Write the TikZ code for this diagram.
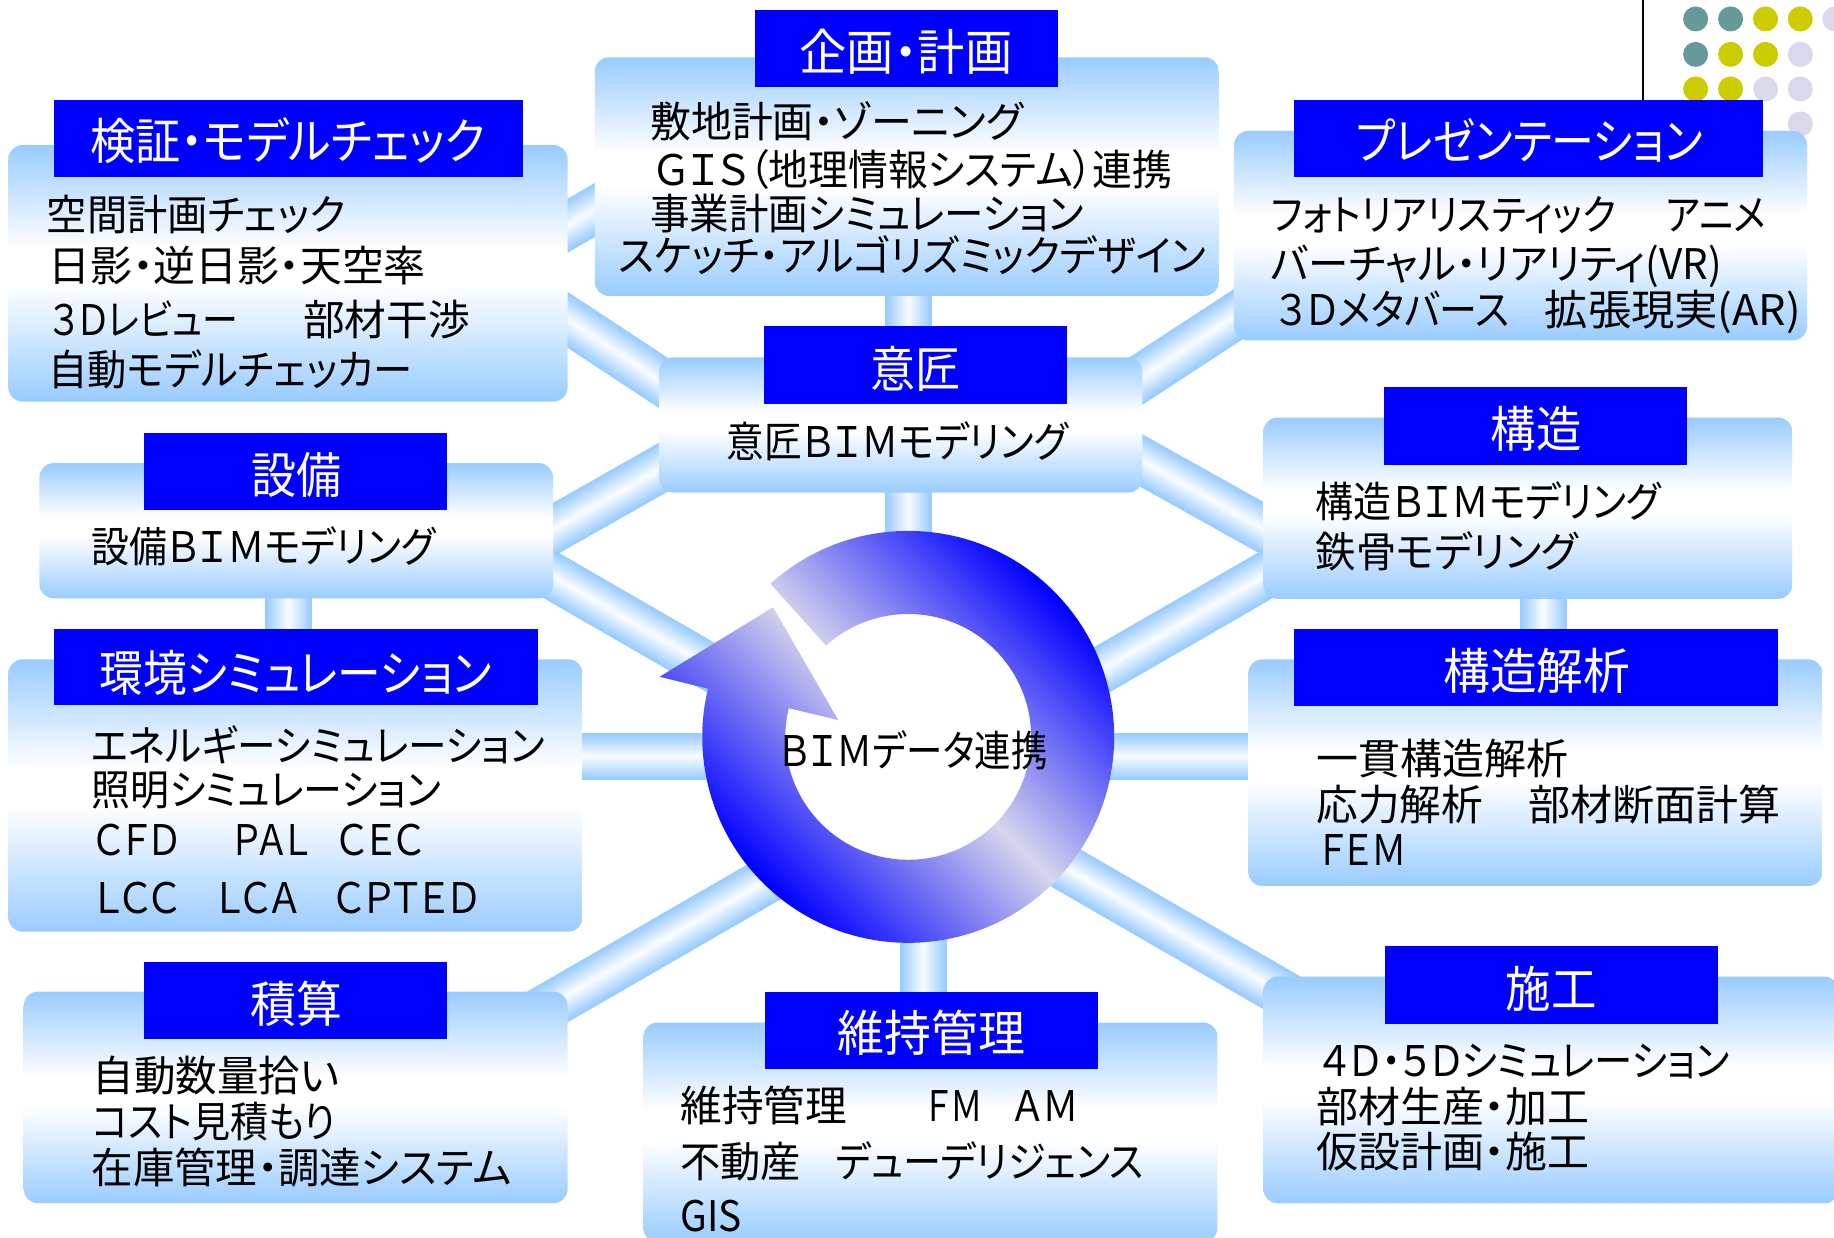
\documentclass[tikz,border=0pt]{standalone}
\usepackage{fontspec}
\usepackage{graphicx}
\setmainfont{Noto Sans CJK JP}[RawFeature=+palt]
\usetikzlibrary{fit}
\definecolor{lb}{RGB}{153,204,255}
\definecolor{titleblue}{RGB}{0,0,255}
\definecolor{ringdark}{RGB}{0,0,255}
\definecolor{ringlight}{RGB}{214,214,236}
\definecolor{dotteal}{RGB}{102,153,153}
\definecolor{dotyellow}{RGB}{204,204,0}
\definecolor{dotlav}{RGB}{217,217,235}
\pgfdeclareverticalshading{boxshade}{100bp}{color(0bp)=(lb); color(25bp)=(lb); color(48bp)=(white); color(55bp)=(white); color(75bp)=(lb); color(100bp)=(lb)}
\pgfdeclarehorizontalshading{ringshade}{100bp}{color(0bp)=(ringdark); color(30.9bp)=(ringdark); color(50bp)=(ringlight); color(69.1bp)=(ringdark); color(100bp)=(ringdark)}
\newlength\fitlen
\newcommand\fittext[2]{\settowidth\fitlen{#2}\pgfmathsetmacro\fitr{(#1)*0.2845274/\fitlen}\scalebox{\fitr}[1]{#2}}
\newcommand\btx[5]{\node[bodytxt] (#1) at (#2,#4+13.7) {\fittext{#3-#2}{#5}};}
\newcommand\ttl[5]{\node[titletxt] (#1) at (#2,#4+16) {\fittext{#3-#2}{#5}};}
\newcommand\tube[2]{\foreach \k in {0,...,11}{\pgfmathsetmacro\tw{0.4*(1-\k/12)}\pgfmathsetmacro\tc{100*(1-\k/12)}\draw[line width=\tw cm, draw=lb!\tc!white] (#1) -- (#2);}}
\tikzset{
 bodytxt/.style={inner sep=0pt, anchor=base west, font=\fontsize{10.24pt}{12pt}\selectfont, text=black},
 titletxt/.style={inner sep=0pt, anchor=base west, font=\fontsize{11.95pt}{14pt}\selectfont, text=white},
 boxnode/.style={inner sep=0pt, shade, shading=boxshade, rounded corners=0.12cm, draw=none},
 titlenode/.style={inner sep=0pt, fill=titleblue, draw=none},
}
\begin{document}
\begin{tikzpicture}[x=0.01cm, y=-0.01cm]
\useasboundingbox (0,0) rectangle (1568,1058);
\fill[white] (0,0) rectangle (1568,1058);
% decoration top right
\draw[line width=0.017cm] (1404.4,0) -- (1404.4,90);
\foreach \cx/\cy/\cc in {1449.7/16.2/dotteal, 1479.6/16.2/dotteal, 1509.5/16.2/dotyellow, 1539.2/16.2/dotyellow, 1568.8/16.2/dotlav,
 1449.7/46.5/dotteal, 1479.6/46.5/dotyellow, 1509.5/46.5/dotyellow, 1539.2/46.5/dotlav,
 1449.7/76.1/dotyellow, 1479.6/76.1/dotyellow, 1509.5/76.1/dotlav, 1539.2/76.1/dotlav,
 1539.2/106/dotlav}
 {\fill[\cc] (\cx,\cy) circle[radius=10.7];}
% connector end points
\coordinate (b1s) at (776.7,200); \coordinate (b1e) at (776.7,630);
\coordinate (b2s) at (789.6,630); \coordinate (b2e) at (789.6,900);
\coordinate (b3s) at (450,646.8); \coordinate (b3e) at (776,646.8);
\coordinate (b4s) at (776,646.8); \coordinate (b4e) at (1100,646.8);
\coordinate (b5s) at (247,480); \coordinate (b5e) at (247,590);
\coordinate (b6s) at (1319.5,480); \coordinate (b6e) at (1319.5,590);
\coordinate (b7s) at (440,219.1); \coordinate (b7e) at (560,149.9);
\coordinate (b8s) at (440,243.6); \coordinate (b8e) at (600,349);
\coordinate (b9s) at (440,471.6); \coordinate (b9e) at (600,380.8);
\coordinate (b10s) at (440,474); \coordinate (b10e) at (700,624);
\coordinate (b11s) at (440,877.1); \coordinate (b11e) at (700,727);
\coordinate (b12s) at (940,346.2); \coordinate (b12e) at (1100,241.6);
\coordinate (b13s) at (940,373.7); \coordinate (b13e) at (1110,468.8);
\coordinate (b14s) at (850,625.7); \coordinate (b14e) at (1110,475.7);
\coordinate (b15s) at (850,706.8); \coordinate (b15e) at (1110,856.9);
\tube{b1s}{b1e} \tube{b2s}{b2e} \tube{b3s}{b3e} \tube{b4s}{b4e}
\tube{b5s}{b5e} \tube{b6s}{b6e} \tube{b7s}{b7e} \tube{b8s}{b8e}
\tube{b9s}{b9e} \tube{b10s}{b10e} \tube{b11s}{b11e} \tube{b12s}{b12e}
\tube{b13s}{b13e} \tube{b14s}{b14e} \tube{b15s}{b15e}
% ring
\fill[white] (776.5,630) circle[radius=176];
\begin{scope}[shift={(776.5,630)}]
 \begin{scope}
  \clip (132:1.76cm) arc[start angle=132, end angle=-193.5, radius=1.76cm]
   -- (166.4:2.185cm) -- (136.2:1.6cm) -- (166.5:0.615cm) -- (166.5:1.05cm)
   arc[start angle=-193.5, end angle=132, radius=1.05cm] -- cycle;
  \shade[shading=ringshade, shading angle=45] (-2.3cm,-2.3cm) rectangle (2.3cm,2.3cm);
 \end{scope}
\end{scope}
% boxes
\node[boxnode, fit={(508.5,49) (1042,253)}] (kikakubox) {};
\node[boxnode, fit={(7.2,124) (485.3,343.4)}] (kenshobox) {};
\node[boxnode, fit={(1055,112) (1545,291)}] (presbox) {};
\node[boxnode, fit={(563.7,305.5) (976.7,421.2)}] (ishobox) {};
\node[boxnode, fit={(33.7,396) (472.8,511.5)}] (setsubibox) {};
\node[boxnode, fit={(1080.2,357) (1532.3,512)}] (kozobox) {};
\node[boxnode, fit={(7.2,563.7) (498,796.5)}] (kankyobox) {};
\node[boxnode, fit={(1067.2,563.7) (1558.2,757.5)}] (kaisekibox) {};
\node[boxnode, fit={(20.3,847.8) (485.3,1028.7)}] (sekisanbox) {};
\node[boxnode, fit={(550,874.3) (1040.9,1062)}] (ijibox) {};
\node[boxnode, fit={(1080.2,835) (1572,1028.8)}] (sekoubox) {};
% title bars
\node[titlenode, fit={(645.6,8.5) (904.7,74.1)}] (kikakutitle) {};
\node[titlenode, fit={(46,85.5) (447,151)}] (kenshotitle) {};
\node[titlenode, fit={(1105.9,85.5) (1507,151)}] (prestitle) {};
\node[titlenode, fit={(653.2,278.7) (912,345.4)}] (ishotitle) {};
\node[titlenode, fit={(123,370.5) (382,436)}] (setsubititle) {};
\node[titlenode, fit={(1183.2,330.6) (1442.2,397.5)}] (kozotitle) {};
\node[titlenode, fit={(46,538) (459.7,603)}] (kankyotitle) {};
\node[titlenode, fit={(1106.4,537.7) (1520,603.3)}] (kaisekititle) {};
\node[titlenode, fit={(123,822.1) (382.2,888.2)}] (sekisantitle) {};
\node[titlenode, fit={(654.1,847.8) (938.8,913.9)}] (ijititle) {};
\node[titlenode, fit={(1184.1,808.8) (1468.8,875.5)}] (sekoutitle) {};
% title texts
\ttl{tkikaku}{683}{864.7}{44}{企画・計画}
\ttl{tkensho}{76.9}{414}{120.4}{検証・モデルチェック}
\ttl{tpres}{1158.6}{1455}{120}{プレゼンテーション}
\ttl{tisho}{743.8}{820.8}{315.6}{意匠}
\ttl{tsetsubi}{214}{291}{406}{設備}
\ttl{tkozo}{1273.8}{1351.5}{367}{構造}
\ttl{tkankyo}{84.4}{419.8}{575}{環境シミュレーション}
\ttl{tkaiseki}{1233.4}{1393}{573.5}{構造解析}
\ttl{tsekisan}{213.4}{291.9}{858.5}{積算}
\ttl{tiji}{715.3}{875.6}{883.4}{維持管理}
\ttl{tsekou}{1286.8}{1364.5}{845}{施工}
% body texts
\btx{a1}{555.3}{873.7}{104}{敷地計画・ゾーニング}
\btx{a2}{558.9}{1001.5}{145.3}{ＧＩＳ（地理情報システム）連携}
\btx{a3}{555.3}{926}{182.4}{事業計画シミュレーション}
\btx{a4}{528.3}{1030.3}{218.6}{スケッチ・アルゴリズミックデザイン}
\btx{b1}{39.3}{294.5}{183}{空間計画チェック}
\btx{b2}{40.9}{363.2}{226.6}{日影・逆日影・天空率}
\btx{b3}{42.5}{203}{273}{３Ｄレビュー}
\btx{b3b}{258.5}{400.9}{273}{部材干渉}
\btx{b4}{40.9}{351.8}{315.6}{自動モデルチェッカー}
\btx{c1}{1086}{1381}{183}{フォトリアリスティック}
\btx{c1b}{1423.7}{1509.3}{183}{アニメ}
\btx{c2}{1086}{1471.4}{225}{バーチャル・リアリティ(VR)}
\btx{c3}{1091}{1290}{265}{３Ｄメタバース}
\btx{c3b}{1320}{1539}{265}{拡張現実(AR)}
\btx{d1}{620.7}{912}{377.6}{意匠ＢＩＭモデリング}
\btx{e1}{77.6}{371.4}{467}{設備ＢＩＭモデリング}
\btx{f1}{1124.2}{1419}{429}{構造ＢＩＭモデリング}
\btx{f2}{1124.2}{1348.3}{471.7}{鉄骨モデリング}
\btx{g1}{77.6}{464.7}{637}{エネルギーシミュレーション}
\btx{g2}{77.6}{376.3}{674.7}{照明シミュレーション}
\btx{g3}{80.8}{153.1}{717.4}{ＣＦＤ}
\btx{g3b}{198}{263.4}{717.4}{ＰＡＬ}
\btx{g3c}{288}{361.6}{717.4}{ＣＥＣ}
\btx{g4}{80.8}{153.1}{767}{ＬＣＣ}
\btx{g4b}{185.5}{255.2}{767}{ＬＣＡ}
\btx{g4c}{285.3}{409}{767}{ＣＰＴＥＤ}
\btx{h1}{1124.9}{1340.2}{648.3}{一貫構造解析}
\btx{h2}{1124.9}{1267.4}{687.5}{応力解析}
\btx{h2b}{1306.2}{1521.6}{687.5}{部材断面計算}
\btx{h3}{1128}{1202.6}{726}{ＦＥＭ}
\btx{i1}{78.5}{289.6}{919.7}{自動数量拾い}
\btx{i2}{78.5}{286.3}{958.9}{コスト見積もり}
\btx{i3}{77.6}{436.8}{998}{在庫管理・調達システム}
\btx{j1}{581.1}{723.5}{945.4}{維持管理}
\btx{j1b}{792.2}{839.6}{945.4}{ＦＭ}
\btx{j1c}{865.8}{921.5}{945.4}{ＡＭ}
\btx{j2}{581.1}{684.2}{993}{不動産}
\btx{j2b}{713.7}{977.1}{993}{デューデリジェンス}
\btx{j3}{581.1}{633.5}{1038.8}{GIS}
\btx{k1}{1128.1}{1477.9}{907}{４Ｄ・５Ｄシミュレーション}
\btx{k2}{1124.9}{1358}{946}{部材生産・加工}
\btx{k3}{1124.9}{1358}{984.7}{仮設計画・施工}
\btx{m1}{665.4}{894.8}{642}{ＢＩＭデータ連携}
\end{tikzpicture}
\end{document}
